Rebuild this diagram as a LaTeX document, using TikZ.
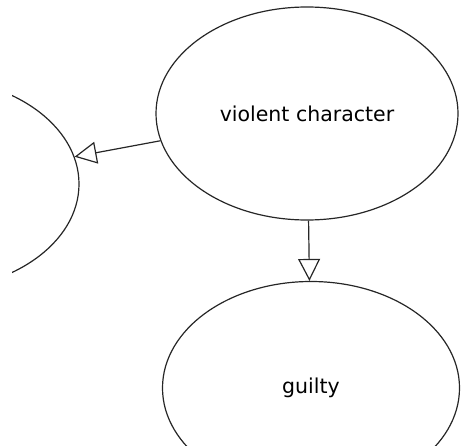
\documentclass[tikz,border=0pt]{standalone}
\usepackage{fontspec}
\setmainfont{DejaVu Sans}
\usetikzlibrary{shapes.geometric,arrows.meta}
\begin{document}
\begin{tikzpicture}[x=1pt,y=1pt,
  idea/.style={draw=black!85,line width=1.2pt,ellipse,minimum width=302pt,minimum height=213pt,inner sep=0pt,font=\fontsize{20.5}{24}\selectfont},
  link/.style={draw=black!85,line width=1.2pt,-{Triangle[open,length=22pt,width=22pt,line width=1.2pt]}}]
\useasboundingbox (0,0) rectangle (462,445);
\clip (12,0) rectangle (462,445);
\node[idea] (violent) at (307,331.5) {violent character};
\node[idea,minimum width=297pt] (guilty) at (311,57) {guilty};
\node[idea] (left) at (-72,261) {};
\draw[link] (violent) -- (left);
\draw[link] (violent) -- (guilty);
\end{tikzpicture}
\end{document}
